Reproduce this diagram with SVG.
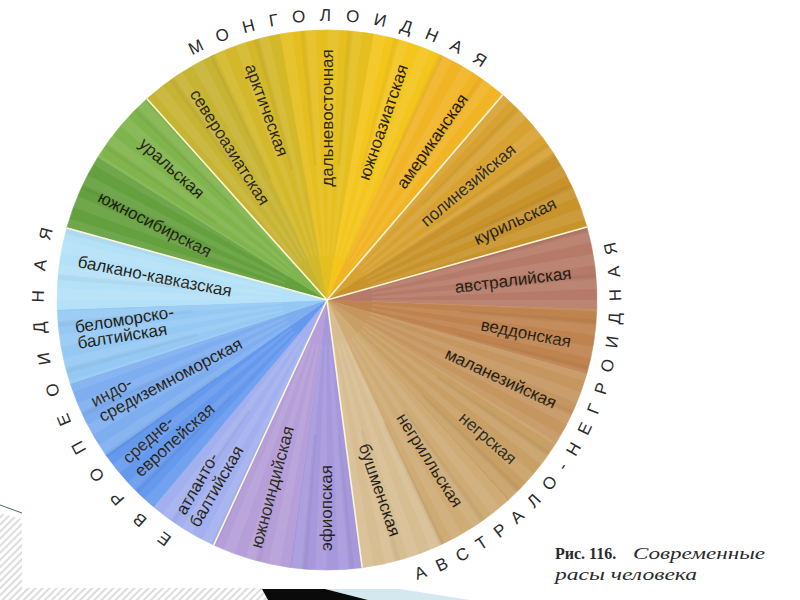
<svg xmlns="http://www.w3.org/2000/svg" width="800" height="600" viewBox="0 0 800 600">
<style>
.lb{font-family:"Liberation Sans",Arial,sans-serif;font-size:17px;fill:#231c12;text-anchor:middle}
.lb2{font-family:"Liberation Sans",Arial,sans-serif;font-size:17px;fill:#231c12;text-anchor:start}
.ring{font-family:"Liberation Sans",Arial,sans-serif;font-size:17px;fill:#2b2b2b}
.sep{stroke:#fbf6d8;stroke-width:1.6;fill:none}
.cap{font-family:"Liberation Serif","Times New Roman",serif;font-size:16px;fill:#2a2a2a}
.tex{fill:none;stroke:#ffffff;stroke-opacity:0.08;stroke-width:45}
.tex2{fill:none;stroke:#000000;stroke-opacity:0.035;stroke-width:45}
</style>
<defs>
<pattern id="hatch" patternUnits="userSpaceOnUse" width="5" height="5" patternTransform="rotate(45)">
<rect width="5" height="5" fill="#ffffff"/>
<rect width="2" height="5" fill="#dcdcdc"/>
</pattern>
<path id="arcM" d="M48,300 A279,279 0 0 1 606,300"/>
<path id="arcE" d="M327,583 A283,283 0 0 1 327,17"/>
<path id="arcA" d="M138,525.2 A294,294 0 1 0 427.6,23.7"/>
</defs>
<rect width="800" height="600" fill="#ffffff"/>

<g id="g-green">
<g id="yuzhnosibirskaya"><path d="M327,300 L66.8,227.9 A270,270 0 0 1 98,156.9 Z" fill="#64a03e" stroke="#64a03e" stroke-width="0.6"/>
<text class="lb" transform="translate(155,224) rotate(27)" y="6">южносибирская</text></g>
<g id="uralskaya"><path d="M327,300 L98,156.9 A270,270 0 0 1 146.9,98.8 Z" fill="#80b44c" stroke="#80b44c" stroke-width="0.6"/>
<text class="lb" transform="translate(172,168) rotate(42)" y="6">уральская</text></g>
</g>

<g id="g-mongol">
<g id="severoaziatskaya"><path d="M327,300 L146.9,98.8 A270,270 0 0 1 212.9,55.3 Z" fill="#c7b433" stroke="#c7b433" stroke-width="0.6"/>
<text class="lb" transform="translate(230,147) rotate(57.6)" y="6">североазиатская</text></g>
<g id="arkticheskaya"><path d="M327,300 L212.9,55.3 A270,270 0 0 1 280.1,34.1 Z" fill="#d3b82a" stroke="#d3b82a" stroke-width="0.6"/>
<text class="lb" transform="translate(267,110) rotate(70)" y="6">арктическая</text></g>
<g id="dalnevostochnaya"><path d="M327,300 L280.1,34.1 A270,270 0 0 1 373.9,34.1 Z" fill="#e5be1f" stroke="#e5be1f" stroke-width="0.6"/>
<text class="lb" transform="translate(327,118) rotate(-90)" y="6">дальневосточная</text></g>
<g id="yuzhnoaziatskaya"><path d="M327,300 L373.9,34.1 A270,270 0 0 1 441.1,55.3 Z" fill="#f3c51d" stroke="#f3c51d" stroke-width="0.6"/>
<text class="lb" transform="translate(383,122) rotate(-71)" y="6">южноазиатская</text></g>
<g id="amerikanskaya"><path d="M327,300 L441.1,55.3 A270,270 0 0 1 502.7,95 Z" fill="#f1b424" stroke="#f1b424" stroke-width="0.6"/>
<text class="lb" transform="translate(432,141) rotate(-55)" y="6">американская</text></g>
</g>

<g id="g-ochre">
<g id="polineziyskaya"><path d="M327,300 L502.7,95 A270,270 0 0 1 553.4,153 Z" fill="#d7a232" stroke="#d7a232" stroke-width="0.6"/>
<text class="lb" transform="translate(468,185) rotate(-40)" y="6">полинезийская</text></g>
<g id="kurilskaya"><path d="M327,300 L553.4,153 A270,270 0 0 1 586.9,226.9 Z" fill="#c8932b" stroke="#c8932b" stroke-width="0.6"/>
<text class="lb" transform="translate(515,221) rotate(-25)" y="6">курильская</text></g>
</g>

<g id="g-austral">
<g id="avstraliyskaya"><path d="M327,300 L586.9,226.9 A270,270 0 0 1 596.8,309.4 Z" fill="#b67a68" stroke="#b67a68" stroke-width="0.6"/>
<text class="lb" transform="translate(513,280) rotate(-7)" y="6">австралийская</text></g>
<g id="veddonskaya"><path d="M327,300 L596.8,309.4 A270,270 0 0 1 586.6,374.4 Z" fill="#bf834f" stroke="#bf834f" stroke-width="0.6"/>
<text class="lb" transform="translate(526,333) rotate(11)" y="6">веддонская</text></g>
<g id="melaneziyskaya"><path d="M327,300 L586.6,374.4 A270,270 0 0 1 556,443.1 Z" fill="#c69660" stroke="#c69660" stroke-width="0.6"/>
<text class="lb" transform="translate(501,378) rotate(25)" y="6">маланезийская</text></g>
<g id="negrskaya"><path d="M327,300 L556,443.1 A270,270 0 0 1 507.7,500.6 Z" fill="#c8a066" stroke="#c8a066" stroke-width="0.6"/>
<text class="lb" transform="translate(488,438) rotate(41)" y="6">негрская</text></g>
<g id="negrillskaya"><path d="M327,300 L507.7,500.6 A270,270 0 0 1 441.1,544.7 Z" fill="#cfab76" stroke="#cfab76" stroke-width="0.6"/>
<text class="lb" transform="translate(430,460) rotate(57.5)" y="6">негрилльская</text></g>
<g id="bushmenskaya"><path d="M327,300 L441.1,544.7 A270,270 0 0 1 362.2,567.7 Z" fill="#d7bd92" stroke="#d7bd92" stroke-width="0.6"/>
<text class="lb" transform="translate(380,490) rotate(71)" y="6">бушменская</text></g>
</g>

<g id="g-purple">
<g id="efiopskaya"><path d="M327,300 L362.2,567.7 A270,270 0 0 1 289.4,567.4 Z" fill="#a798dc" stroke="#a798dc" stroke-width="0.6"/>
<text class="lb" transform="translate(326,508) rotate(-90)" y="6">эфиопская</text></g>
<g id="yuzhnoindiyskaya"><path d="M327,300 L289.4,567.4 A270,270 0 0 1 213.7,545.1 Z" fill="#b69fd8" stroke="#b69fd8" stroke-width="0.6"/>
<text class="lb" transform="translate(272,487) rotate(-75)" y="6">южноиндийская</text></g>
</g>

<g id="g-europe">
<g id="atlanto-baltiyskaya"><path d="M327,300 L213.7,545.1 A270,270 0 0 1 153.4,506.8 Z" fill="#a3b0ef" stroke="#a3b0ef" stroke-width="0.6"/>
<text class="lb2" transform="translate(180,513) rotate(-60)"><tspan x="0" y="6">атланто-</tspan><tspan x="-4" y="24">балтийская</tspan></text></g>
<g id="sredne-evropeyskaya"><path d="M327,300 L153.4,506.8 A270,270 0 0 1 105.8,454.9 Z" fill="#6599ee" stroke="#6599ee" stroke-width="0.6"/>
<text class="lb2" transform="translate(125,460) rotate(-42)"><tspan x="0" y="6">средне-</tspan><tspan x="0" y="24">европейская</tspan></text></g>
<g id="indo-sredizemnomorskaya"><path d="M327,300 L105.8,454.9 A270,270 0 0 1 70.2,383.4 Z" fill="#7eaef0" stroke="#7eaef0" stroke-width="0.6"/>
<text class="lb2" transform="translate(92,402) rotate(-28)"><tspan x="0" y="6">индо-</tspan><tspan x="0" y="23">средиземноморская</tspan></text></g>
<g id="belomorsko-baltiyskaya"><path d="M327,300 L70.2,383.4 A270,270 0 0 1 57.2,309.4 Z" fill="#95c9f4" stroke="#95c9f4" stroke-width="0.6"/>
<text class="lb2" transform="translate(75,327) rotate(-9)"><tspan x="0" y="6">беломорско-</tspan><tspan x="0" y="22">балтийская</tspan></text></g>
<g id="balkano-kavkazskaya"><path d="M327,300 L57.2,309.4 A270,270 0 0 1 66.8,227.9 Z" fill="#b5e1f8" stroke="#b5e1f8" stroke-width="0.6"/>
<text class="lb" transform="translate(155,276) rotate(11)" y="6">балкано-кавказская</text></g>
</g>

<g id="texture">
<circle class="tex" cx="327" cy="300" r="67.5" stroke-dasharray="2.945 2.945"/>
<circle class="tex" cx="327" cy="300" r="112.5" stroke-dasharray="4.909 4.909"/>
<circle class="tex" cx="327" cy="300" r="157.5" stroke-dasharray="6.872 6.872"/>
<circle class="tex" cx="327" cy="300" r="202.5" stroke-dasharray="8.836 8.836"/>
<circle class="tex" cx="327" cy="300" r="247.5" stroke-dasharray="10.799 10.799"/>
<circle class="tex2" cx="327" cy="300" r="157.5" stroke-dasharray="3.436 24.053" stroke-dashoffset="-12"/>
<circle class="tex2" cx="327" cy="300" r="202.5" stroke-dasharray="4.418 30.925" stroke-dashoffset="-15"/>
<circle class="tex2" cx="327" cy="300" r="247.5" stroke-dasharray="5.4 37.8" stroke-dashoffset="-18"/>
</g>

<g id="connectors">
<line class="sep" x1="327" y1="300" x2="66.8" y2="227.9"/>
<line class="sep" x1="327" y1="300" x2="146.9" y2="98.8"/>
<line class="sep" x1="327" y1="300" x2="502.7" y2="95"/>
<line class="sep" x1="327" y1="300" x2="586.9" y2="226.9"/>
<line class="sep" x1="327" y1="300" x2="362.2" y2="567.7"/>
<line class="sep" x1="327" y1="300" x2="213.7" y2="545.1"/>
</g>

<g id="ring-labels">
<text class="ring" letter-spacing="14.5"><textPath href="#arcM" startOffset="457" text-anchor="middle">МОНГОЛОИДНАЯ</textPath></text>
<text class="ring" letter-spacing="19"><textPath href="#arcE" startOffset="349" text-anchor="middle">ЕВРОПЕОИДНАЯ</textPath></text>
<text class="ring" letter-spacing="12"><textPath href="#arcA" startOffset="517" text-anchor="middle">АВСТРАЛО-НЕГРОИДНАЯ</textPath></text>
</g>

<g id="caption">
<text class="cap" x="555" y="559" font-weight="bold" font-size="17">Рис. 116.</text>
<text class="cap" x="633" y="559" font-style="italic" textLength="132" lengthAdjust="spacingAndGlyphs">Современные</text>
<text class="cap" x="555" y="580" font-style="italic" textLength="142" lengthAdjust="spacingAndGlyphs">расы человека</text>
</g>

<g id="decor">
<polygon points="0,513 22,519 22,588 262,588 268,600 0,600" fill="url(#hatch)"/>
<line x1="0" y1="505" x2="22" y2="513" stroke="#4d6d74" stroke-width="1"/>
<polygon points="325,589 400,589 470,600 368,600" fill="#d4e8ef"/>
<polygon points="262,589 325,589 368,600 268,600" fill="#0a0a0a"/>
</g>
</svg>
